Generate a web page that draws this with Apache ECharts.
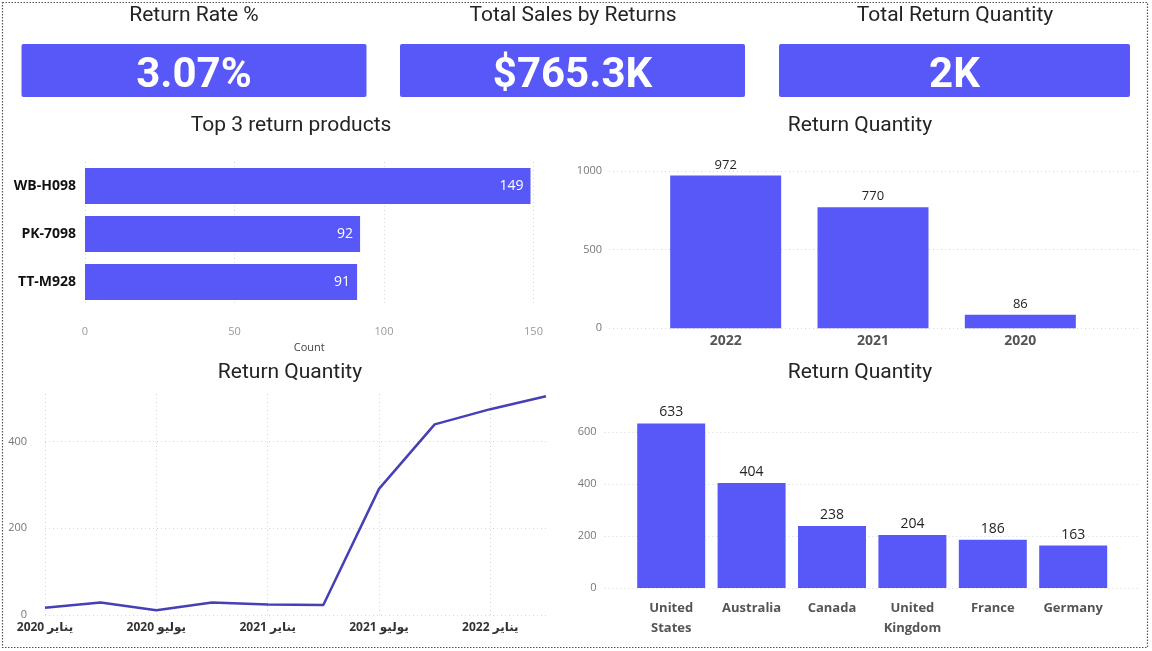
<!DOCTYPE html>
<html><head><meta charset="utf-8">
<script src="https://cdn.jsdelivr.net/npm/echarts/dist/echarts.min.js"></script>
<style>html,body{margin:0;padding:0;background:#fff}#c{width:1152px;height:651px}</style>
</head><body><div id="c"></div><script>
// ---- data ----
const kpiTitles = ['Return Rate %', 'Total Sales by Returns', 'Total Return Quantity'];
const kpiValues = ['3.07%', '$765.3K', '2K'];
const chartTitles = ['Top 3 return products', 'Return Quantity', 'Return Quantity', 'Return Quantity'];

const products = ['WB-H098', 'PK-7098', 'TT-M928'];
const productCounts = [149, 92, 91];

const years = ['2022', '2021', '2020'];
const yearQty = [972, 770, 86];

const months = ['يناير 2020', 'أبريل 2020', 'يوليو 2020', 'أكتوبر 2020', 'يناير 2021', 'أبريل 2021', 'يوليو 2021', 'أكتوبر 2021', 'يناير 2022', 'أبريل 2022'];
const monthQty = [17, 29, 11, 29, 24, 23, 291, 440, 475, 505];

const countries = ['United States', 'Australia', 'Canada', 'United Kingdom', 'France', 'Germany'];
const countryQty = [633, 404, 238, 204, 186, 163];

// ---- style ----
const BAR = '#5858F8';
const LINE = '#4640B6';
const TITLE_FONT = 'Roboto, "Noto Sans", sans-serif';
const LABEL_FONT = '"Open Sans", "Noto Sans", "DejaVu Sans", sans-serif';
const dotted = { show: true, lineStyle: { color: '#d6d6d6', type: [1, 3], width: 1 } };

const chart = echarts.init(document.getElementById('c'), null, { renderer: 'canvas' });

const cardX = [21.5, 400, 779];
const cardW = [345, 345, 351];
const kpiCenters = [194, 573, 955];
const titlePos = [[291, 126], [860, 126], [290, 373], [860, 373]];

const graphics = [
  { type: 'rect', shape: { x: 2.5, y: 2.5, width: 1145, height: 645 }, style: { fill: 'none', stroke: '#555', lineWidth: 1.2, lineDash: [1.5, 1.5] }, silent: true }
];
kpiTitles.forEach((t, i) => {
  graphics.push({ type: 'text', x: kpiCenters[i], y: 16, style: { text: t, fill: '#252423', font: '21px ' + TITLE_FONT, textAlign: 'center', textVerticalAlign: 'middle' } });
  graphics.push({ type: 'rect', shape: { x: cardX[i], y: 44, width: cardW[i], height: 53, r: 2 }, style: { fill: BAR } });
  graphics.push({ type: 'text', x: cardX[i] + cardW[i] / 2, y: 76, style: { text: kpiValues[i], fill: '#fff', font: 'bold 42px ' + TITLE_FONT, textAlign: 'center', textVerticalAlign: 'middle' } });
});
chartTitles.forEach((t, i) => {
  graphics.push({ type: 'text', x: titlePos[i][0], y: titlePos[i][1], style: { text: t, fill: '#252423', font: '21px ' + TITLE_FONT, textAlign: 'center', textVerticalAlign: 'middle' } });
});

const hidden = { show: false };

const option = {
  animation: false,
  graphic: graphics,
  grid: [
    { left: 85, top: 162, width: 448.5, height: 144 },
    { left: 652, top: 171, width: 442, height: 157.3 },
    { left: 609, top: 171, width: 529, height: 157.3 },
    { left: 45, top: 394, width: 501, height: 221 },
    { left: 631, top: 419, width: 482.4, height: 169 },
    { left: 604.5, top: 419, width: 533, height: 169 }
  ],
  xAxis: [
    { type: 'value', gridIndex: 0, min: 0, max: 150, interval: 50,
      axisLine: hidden, axisTick: hidden, splitLine: dotted,
      axisLabel: { color: '#999', fontSize: 11, margin: 20, fontFamily: LABEL_FONT },
      name: 'Count', nameLocation: 'middle', nameGap: 36,
      nameTextStyle: { color: '#444', fontSize: 11, fontFamily: LABEL_FONT } },
    { type: 'category', gridIndex: 1, data: years,
      axisLine: hidden, axisTick: hidden,
      axisLabel: { color: '#555', fontSize: 14, fontWeight: 'bold', margin: 6, fontFamily: LABEL_FONT } },
    { type: 'value', gridIndex: 2, min: 0, max: 1, show: false },
    { type: 'category', gridIndex: 3, data: months, boundaryGap: false,
      axisLine: hidden, axisTick: hidden,
      axisLabel: { interval: 1, color: '#333', fontSize: 12, fontWeight: 'bold', margin: 7, fontFamily: LABEL_FONT },
      splitLine: Object.assign({ interval: 1 }, dotted) },
    { type: 'category', gridIndex: 4, data: countries,
      axisLine: hidden, axisTick: hidden,
      axisLabel: { interval: 0, color: '#555', fontSize: 13, fontWeight: 'bold', margin: 10, lineHeight: 20, fontFamily: LABEL_FONT,
        formatter: v => v.replace(' ', '\n') } },
    { type: 'value', gridIndex: 5, min: 0, max: 1, show: false }
  ],
  yAxis: [
    { type: 'category', gridIndex: 0, data: products, inverse: true,
      axisLine: hidden, axisTick: hidden,
      axisLabel: { color: '#111', fontSize: 14, fontWeight: 'bold', margin: 9, fontFamily: LABEL_FONT } },
    { type: 'value', gridIndex: 1, min: 0, max: 1000, show: false },
    { type: 'value', gridIndex: 2, min: 0, max: 1000, interval: 500,
      axisLine: hidden, axisTick: hidden, splitLine: dotted,
      axisLabel: { color: '#777', fontSize: 11, margin: 7, fontFamily: LABEL_FONT, formatter: v => String(v) } },
    { type: 'value', gridIndex: 3, min: 0, max: 510, interval: 200,
      axisLine: hidden, axisTick: hidden,
      splitLine: Object.assign({ showMaxLine: false }, dotted),
      axisLabel: { color: '#777', fontSize: 11, margin: 18, showMaxLabel: false, fontFamily: LABEL_FONT } },
    { type: 'value', gridIndex: 4, min: 0, max: 650, show: false },
    { type: 'value', gridIndex: 5, min: 0, max: 650, interval: 200,
      axisLine: hidden, axisTick: hidden,
      splitLine: Object.assign({ showMaxLine: false }, dotted),
      axisLabel: { color: '#777', fontSize: 11, margin: 8, showMaxLabel: false, fontFamily: LABEL_FONT } }
  ],
  series: [
    { type: 'bar', xAxisIndex: 0, yAxisIndex: 0, data: productCounts, barWidth: 36,
      itemStyle: { color: BAR },
      label: { show: true, position: 'insideRight', distance: 7, color: '#fff', fontSize: 14, fontFamily: LABEL_FONT } },
    { type: 'bar', xAxisIndex: 1, yAxisIndex: 1, data: yearQty, barWidth: 111,
      itemStyle: { color: BAR },
      label: { show: true, position: 'top', distance: 4, color: '#252423', fontSize: 13, fontFamily: LABEL_FONT } },
    { type: 'line', xAxisIndex: 3, yAxisIndex: 3, data: monthQty, showSymbol: false,
      lineStyle: { color: LINE, width: 2.5 }, itemStyle: { color: LINE } },
    { type: 'bar', xAxisIndex: 4, yAxisIndex: 4, data: countryQty, barWidth: 68,
      itemStyle: { color: BAR },
      label: { show: true, position: 'top', distance: 4, color: '#252423', fontSize: 14, fontFamily: LABEL_FONT } }
  ]
};
chart.setOption(option);
</script></body></html>
